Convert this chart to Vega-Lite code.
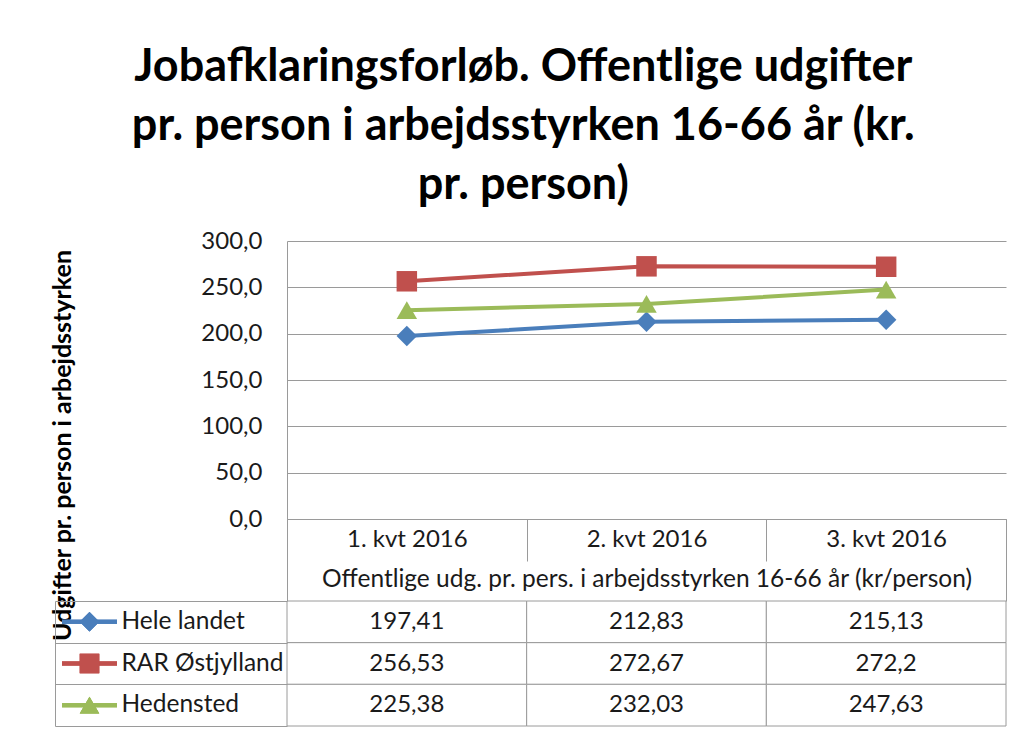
{
  "$schema": "https://vega.github.io/schema/vega-lite/v6.json",
  "background": "white",
  "padding": {"left": 50, "top": 45, "right": 20, "bottom": 6},
  "title": {
    "text": ["Jobafklaringsforløb. Offentlige udgifter", "pr. person i arbejdsstyrken 16-66 år (kr.", "pr. person)"],
    "font": "Lato",
    "fontSize": 45,
    "fontWeight": "bold",
    "lineHeight": 59,
    "color": "#000000",
    "anchor": "middle",
    "offset": 21,
    "dx": -5
  },
  "data": {
    "values": [
      {"kvartal": "1. kvt 2016", "serie": "Hele landet", "vaerdi": 197.41, "maal": "Offentlige udg. pr. pers. i arbejdsstyrken 16-66 år (kr/person)"},
      {"kvartal": "2. kvt 2016", "serie": "Hele landet", "vaerdi": 212.83, "maal": "Offentlige udg. pr. pers. i arbejdsstyrken 16-66 år (kr/person)"},
      {"kvartal": "3. kvt 2016", "serie": "Hele landet", "vaerdi": 215.13, "maal": "Offentlige udg. pr. pers. i arbejdsstyrken 16-66 år (kr/person)"},
      {"kvartal": "1. kvt 2016", "serie": "RAR Østjylland", "vaerdi": 256.53, "maal": "Offentlige udg. pr. pers. i arbejdsstyrken 16-66 år (kr/person)"},
      {"kvartal": "2. kvt 2016", "serie": "RAR Østjylland", "vaerdi": 272.67, "maal": "Offentlige udg. pr. pers. i arbejdsstyrken 16-66 år (kr/person)"},
      {"kvartal": "3. kvt 2016", "serie": "RAR Østjylland", "vaerdi": 272.2, "maal": "Offentlige udg. pr. pers. i arbejdsstyrken 16-66 år (kr/person)"},
      {"kvartal": "1. kvt 2016", "serie": "Hedensted", "vaerdi": 225.38, "maal": "Offentlige udg. pr. pers. i arbejdsstyrken 16-66 år (kr/person)"},
      {"kvartal": "2. kvt 2016", "serie": "Hedensted", "vaerdi": 232.03, "maal": "Offentlige udg. pr. pers. i arbejdsstyrken 16-66 år (kr/person)"},
      {"kvartal": "3. kvt 2016", "serie": "Hedensted", "vaerdi": 247.63, "maal": "Offentlige udg. pr. pers. i arbejdsstyrken 16-66 år (kr/person)"}
    ]
  },
  "columns": 2,
  "bounds": "flush",
  "spacing": {"row": 82, "column": 170},
  "concat": [
    {
      "width": 55,
      "height": 278,
      "data": {"values": []},
      "mark": "point",
      "encoding": {
        "x": {"field": "kvartal", "type": "nominal", "axis": null},
        "y": {"field": "serie", "type": "nominal", "axis": null}
      }
    },
    {
      "width": 719,
      "height": 278,
      "layer": [
        {
          "mark": {"type": "line", "strokeWidth": 4},
          "encoding": {
            "x": {
              "field": "kvartal", "type": "nominal", "sort": null, "bandPosition": 0.5,
              "scale": {"type": "band", "paddingInner": 0, "paddingOuter": 0},
              "axis": {
                "orient": "bottom", "grid": false, "title": null,
                "domain": true, "domainColor": "#9a9a9a",
                "ticks": true, "tickBand": "extent", "tickSize": 42, "tickColor": "#9a9a9a",
                "labelAngle": 0, "labelBaseline": "middle", "labelPadding": -22,
                "labelFont": "Lato", "labelFontSize": 24, "labelColor": "#1a1a1a"
              }
            },
            "y": {
              "field": "vaerdi", "type": "quantitative",
              "scale": {"domain": [0, 300], "nice": false, "zero": true},
              "axis": {
                "values": [0, 50, 100, 150, 200, 250, 300],
                "format": ".1f",
                "grid": true, "gridColor": "#9a9a9a",
                "domain": true, "domainColor": "#9a9a9a",
                "ticks": false, "labelPadding": 25,
                "labelFont": "Lato", "labelFontSize": 24, "labelColor": "#1a1a1a",
                "title": "Udgifter pr. person i arbejdsstyrken",
                "titleFont": "Lato", "titleFontSize": 25, "titleFontWeight": "bold", "titleColor": "#000000",
                "titleAngle": 270, "titleAlign": "center", "titleBaseline": "middle",
                "titleX": -225, "titleY": 204
              }
            },
            "color": {
              "field": "serie", "type": "nominal",
              "scale": {"domain": ["Hele landet", "RAR Østjylland", "Hedensted"], "range": ["#4A7EBB", "#C0504D", "#9BBB59"]},
              "legend": null
            }
          }
        },
        {
          "mark": {"type": "point", "filled": true, "opacity": 1, "size": 420},
          "encoding": {
            "x": {
              "field": "kvartal", "type": "nominal", "sort": null, "bandPosition": 0.5,
              "scale": {"type": "band", "paddingInner": 0, "paddingOuter": 0},
              "axis": null
            },
            "y": {"field": "vaerdi", "type": "quantitative"},
            "color": {"field": "serie", "type": "nominal", "legend": null},
            "shape": {
              "field": "serie", "type": "nominal",
              "scale": {"domain": ["Hele landet", "RAR Østjylland", "Hedensted"], "range": ["diamond", "square", "triangle-up"]},
              "legend": null
            }
          }
        },
        {
          "mark": {"type": "point", "opacity": 0},
          "encoding": {
            "x": {
              "field": "maal", "type": "nominal", "bandPosition": 0.5,
              "scale": {"type": "band", "paddingInner": 0, "paddingOuter": 0},
              "axis": {
                "orient": "bottom", "title": null, "grid": false, "domain": false,
                "ticks": true, "tickBand": "extent", "tickSize": 82, "tickColor": "#9a9a9a",
                "labelAngle": 0, "labelBaseline": "middle", "labelPadding": -22, "labelLimit": 0,
                "labelFont": "Lato", "labelFontSize": 24.5, "labelColor": "#1a1a1a"
              }
            },
            "y": {"field": "vaerdi", "type": "quantitative"}
          }
        }
      ],
      "resolve": {"scale": {"x": "independent"}, "axis": {"x": "independent"}}
    },
    {
      "width": 55,
      "height": 125,
      "layer": [
        {
          "mark": {"type": "tick", "orient": "horizontal", "size": 55, "thickness": 4, "opacity": 1},
          "encoding": {
            "x": {
              "field": "maal", "type": "nominal", "bandPosition": 0.5,
              "scale": {"type": "band", "paddingInner": 0, "paddingOuter": 0},
              "axis": null
            },
            "y": {
              "field": "serie", "type": "nominal", "bandPosition": 0.5,
              "scale": {"type": "band", "domain": ["Hele landet", "RAR Østjylland", "Hedensted"], "paddingInner": 0, "paddingOuter": 0},
              "axis": {
                "orient": "left", "offset": 7, "domain": true, "domainColor": "#9a9a9a",
                "ticks": false, "labels": false, "title": null, "grid": false
              }
            },
            "color": {
              "field": "serie", "type": "nominal",
              "scale": {"domain": ["Hele landet", "RAR Østjylland", "Hedensted"], "range": ["#4A7EBB", "#C0504D", "#9BBB59"]},
              "legend": null
            }
          }
        },
        {
          "mark": {"type": "point", "filled": true, "opacity": 1, "size": 380},
          "encoding": {
            "x": {"field": "maal", "type": "nominal", "bandPosition": 0.5},
            "y": {
              "field": "serie", "type": "nominal", "bandPosition": 0.5,
              "axis": {
                "orient": "right", "domain": false, "ticks": false, "grid": false, "title": null,
                "labelAlign": "left", "labelPadding": 4, "labelLimit": 0,
                "labelFont": "Lato", "labelFontSize": 24.5, "labelColor": "#1a1a1a"
              }
            },
            "color": {"field": "serie", "type": "nominal", "legend": null},
            "shape": {
              "field": "serie", "type": "nominal",
              "scale": {"domain": ["Hele landet", "RAR Østjylland", "Hedensted"], "range": ["diamond", "square", "triangle-up"]},
              "legend": null
            }
          }
        }
      ],
      "resolve": {"axis": {"y": "independent"}}
    },
    {
      "width": 719,
      "height": 125,
      "layer": [
        {
          "mark": {"type": "rect", "fill": "white", "stroke": "#9a9a9a", "strokeWidth": 1},
          "encoding": {
            "x": {
              "field": "kvartal", "type": "nominal", "sort": null,
              "scale": {"type": "band", "paddingInner": 0, "paddingOuter": 0},
              "axis": null
            },
            "y": {
              "field": "serie", "type": "nominal",
              "scale": {"type": "band", "domain": ["Hele landet", "RAR Østjylland", "Hedensted"], "paddingInner": 0, "paddingOuter": 0},
              "axis": {
                "orient": "left", "domain": false, "labels": false, "title": null, "grid": false,
                "ticks": true, "tickBand": "extent", "tickSize": 232, "tickColor": "#9a9a9a"
              }
            }
          }
        },
        {
          "mark": {"type": "text", "font": "Lato", "fontSize": 24, "color": "#1a1a1a", "align": "center", "baseline": "middle"},
          "encoding": {
            "x": {"field": "kvartal", "type": "nominal", "sort": null, "bandPosition": 0.5},
            "y": {"field": "serie", "type": "nominal", "bandPosition": 0.5},
            "text": {"field": "vaerdi", "type": "quantitative", "format": ".2~f"}
          }
        }
      ]
    }
  ],
  "config": {
    "view": {"stroke": null},
    "font": "Lato",
    "locale": {"number": {"decimal": ",", "thousands": ".", "grouping": [3], "currency": ["", " kr."]}}
  }
}
